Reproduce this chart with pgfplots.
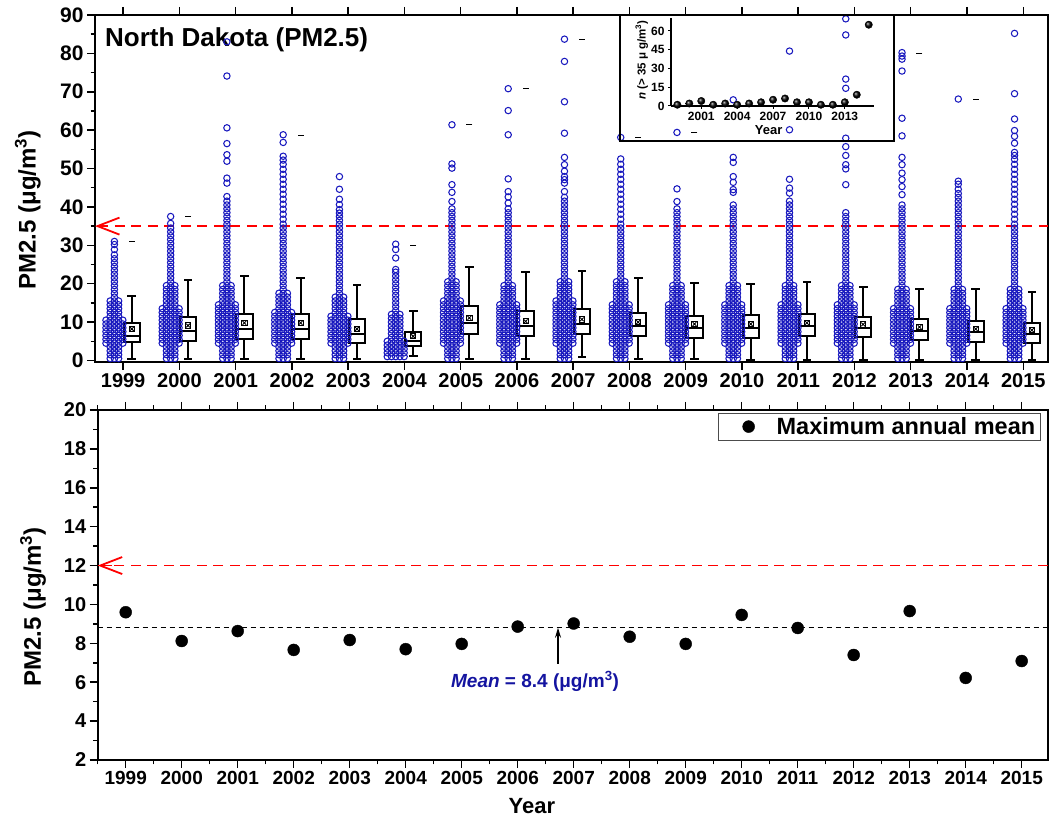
\documentclass[border=0pt]{standalone}
\usepackage{fontspec}
\setmainfont{Liberation Sans}
\usepackage{pgfplots}
\usepackage{pgfplotstable}
\pgfplotsset{compat=1.18}
\usetikzlibrary{arrows.meta}
\definecolor{cblue}{RGB}{24,24,190}
\definecolor{mblue}{RGB}{20,20,160}
\newcommand\fs[1]{\fontsize{#1}{#1}\selectfont}
\pgfplotsset{cloud/.style={only marks, mark=o, cblue, mark size=3.2pt, mark options={line width=1.05pt}}}
% x axis positions: 0 = 1999, 16 = 2015
\newcommand\cl[2]{%
\addplot[cloud] table[x expr=#1-0.155,y=y]{#2};
\addplot[cloud,restrict expr to domain={\thisrow{w}}{0.5:2.5}] table[x expr=#1-0.23,y=y]{#2};
\addplot[cloud,restrict expr to domain={\thisrow{w}}{0.5:2.5}] table[x expr=#1-0.08,y=y]{#2};
\addplot[cloud,restrict expr to domain={\thisrow{w}}{1.5:2.5}] table[x expr=#1-0.305,y=y]{#2};
\addplot[cloud,restrict expr to domain={\thisrow{w}}{1.5:2.5}] table[x expr=#1-0.005,y=y]{#2};
}
% box: #1 index, #2 lower whisker, #3 Q1, #4 median, #5 Q3, #6 upper whisker
\newcommand\bx[6]{\addplot[black,line width=2pt,solid,line cap=rect,unbounded coords=jump] coordinates {(#1.01,#3) (#1.30,#3) (#1.30,#5) (#1.01,#5) (#1.01,#3) (#1.1,nan) (#1.01,#4) (#1.30,#4) (#1.1,nan) (#1.155,#5) (#1.155,#6) (#1.1,nan) (#1.095,#6) (#1.215,#6) (#1.1,nan) (#1.155,#3) (#1.155,#2) (#1.1,nan) (#1.095,#2) (#1.215,#2)};}
\pgfplotsset{ax/.style={scale only axis, tick align=outside, ytick pos=left,
 major tick length=8pt, minor tick length=4.5pt,
 every tick/.style={black,line width=1.5pt},
 axis line style={line width=1.6pt},
 /pgf/number format/assume math mode=true,
 xtick={0,...,16},
 xticklabels={1999,2000,2001,2002,2003,2004,2005,2006,2007,2008,2009,2010,2011,2012,2013,2014,2015}}}

\pgfplotstableread{
w y
1 0.5
1 1.5
1 2.5
1 3.5
2 4.5
2 5.5
2 6.5
2 7.5
2 8.5
2 9.5
2 10.5
1 11.5
1 12.5
1 13.5
1 14.5
1 15.5
0 16.5
0 17.5
0 18.5
0 19.5
0 20.5
0 21.5
0 22.5
0 23.5
0 24.5
0 25.5
0 26.5
0 27.5
0 28.9
0 30.2
0 31.0
}\tA
\pgfplotstableread{
w y
1 0.5
1 1.5
1 2.5
1 3.5
2 4.5
2 5.5
2 6.5
2 7.5
2 8.5
2 9.5
2 10.5
2 11.5
2 12.5
2 13.5
1 14.5
1 15.5
1 16.5
1 17.5
1 18.5
1 19.5
0 20.5
0 21.5
0 22.5
0 23.5
0 24.5
0 25.5
0 26.5
0 27.5
0 28.5
0 29.5
0 30.5
0 31.5
0 32.5
0 33.5
0 34.5
0 35.7
0 37.5
}\tB
\pgfplotstableread{
w y
1 0.5
1 1.5
1 2.5
1 3.5
2 4.5
2 5.5
2 6.5
2 7.5
2 8.5
2 9.5
2 10.5
2 11.5
2 12.5
2 13.5
2 14.5
1 15.5
1 16.5
1 17.5
1 18.5
1 19.5
0 20.5
0 21.5
0 22.5
0 23.5
0 24.5
0 25.5
0 26.5
0 27.5
0 28.5
0 29.5
0 30.5
0 31.5
0 32.5
0 33.5
0 34.5
0 35.5
0 36.5
0 37.5
0 38.5
0 39.5
0 40.5
0 41.5
0 42.7
0 46.2
0 47.5
0 51.9
0 53.6
0 56.5
0 60.6
0 74.1
0 83.0
}\tC
\pgfplotstableread{
w y
1 0.5
1 1.5
1 2.5
1 3.5
2 4.5
2 5.5
2 6.5
2 7.5
2 8.5
2 9.5
2 10.5
2 11.5
2 12.5
1 13.5
1 14.5
1 15.5
1 16.5
1 17.5
0 18.5
0 19.5
0 20.5
0 21.5
0 22.5
0 23.5
0 24.5
0 25.5
0 26.5
0 27.5
0 28.5
0 29.5
0 30.5
0 31.5
0 32.5
0 33.5
0 34.5
0 35.5
0 36.8
0 38.1
0 39.4
0 40.7
0 42.0
0 43.3
0 44.6
0 45.9
0 47.2
0 48.5
0 49.8
0 51.1
0 52.2
0 53.2
0 56.8
0 58.8
}\tD
\pgfplotstableread{
w y
1 0.5
1 1.5
1 2.5
1 3.5
2 4.5
2 5.5
2 6.5
2 7.5
2 8.5
2 9.5
2 10.5
2 11.5
1 12.5
1 13.5
1 14.5
1 15.5
1 16.5
0 17.5
0 18.5
0 19.5
0 20.5
0 21.5
0 22.5
0 23.5
0 24.5
0 25.5
0 26.5
0 27.5
0 28.5
0 29.5
0 30.5
0 31.5
0 32.5
0 33.5
0 34.5
0 35.5
0 36.5
0 37.5
0 38.4
0 39.3
0 40.6
0 42.0
0 44.6
0 47.9
}\tE
\pgfplotstableread{
w y
2 1.0
2 2.0
2 3.0
2 4.0
2 5.0
1 6.0
1 7.0
1 8.0
1 9.0
1 10.0
1 11.0
1 12.0
0 13.0
0 14.0
0 15.0
0 16.0
0 17.0
0 18.0
0 19.0
0 20.0
0 21.0
0 22.0
0 23.0
0 23.7
0 26.7
0 28.9
0 30.3
}\tF
\pgfplotstableread{
w y
1 0.5
1 1.5
1 2.5
1 3.5
2 4.5
2 5.5
2 6.5
2 7.5
2 8.5
2 9.5
2 10.5
2 11.5
2 12.5
2 13.5
2 14.5
2 15.5
1 16.5
1 17.5
1 18.5
1 19.5
1 20.5
0 21.5
0 22.5
0 23.5
0 24.5
0 25.5
0 26.5
0 27.5
0 28.5
0 29.5
0 30.5
0 31.5
0 32.5
0 33.5
0 34.5
0 35.5
0 36.5
0 37.5
0 38.5
0 39.5
0 41.4
0 43.8
0 45.8
0 50.1
0 51.2
0 61.4
}\tG
\pgfplotstableread{
w y
1 0.5
1 1.5
1 2.5
1 3.5
2 4.5
2 5.5
2 6.5
2 7.5
2 8.5
2 9.5
2 10.5
2 11.5
2 12.5
2 13.5
2 14.5
1 15.5
1 16.5
1 17.5
1 18.5
1 19.5
0 20.5
0 21.5
0 22.5
0 23.5
0 24.5
0 25.5
0 26.5
0 27.5
0 28.5
0 29.5
0 30.5
0 31.5
0 32.5
0 33.5
0 34.5
0 35.5
0 36.5
0 37.5
0 38.5
0 39.5
0 41.0
0 42.6
0 44.0
0 47.3
0 58.8
0 65.1
0 70.8
}\tH
\pgfplotstableread{
w y
1 0.5
1 1.5
1 2.5
1 3.5
2 4.5
2 5.5
2 6.5
2 7.5
2 8.5
2 9.5
2 10.5
2 11.5
2 12.5
2 13.5
2 14.5
2 15.5
1 16.5
1 17.5
1 18.5
1 19.5
1 20.5
0 21.5
0 22.5
0 23.5
0 24.5
0 25.5
0 26.5
0 27.5
0 28.5
0 29.5
0 30.5
0 31.5
0 32.5
0 33.5
0 34.5
0 35.5
0 36.5
0 37.5
0 38.5
0 39.5
0 40.5
0 41.5
0 42.5
0 44.0
0 46.2
0 47.1
0 47.9
0 49.3
0 51.0
0 52.9
0 59.2
0 67.4
0 77.9
0 83.7
}\tI
\pgfplotstableread{
w y
1 0.5
1 1.5
1 2.5
1 3.5
2 4.5
2 5.5
2 6.5
2 7.5
2 8.5
2 9.5
2 10.5
2 11.5
2 12.5
2 13.5
2 14.5
1 15.5
1 16.5
1 17.5
1 18.5
1 19.5
1 20.5
0 21.5
0 22.5
0 23.5
0 24.5
0 25.5
0 26.5
0 27.5
0 28.5
0 29.5
0 30.5
0 31.5
0 32.5
0 33.5
0 34.5
0 35.5
0 36.8
0 38.1
0 39.4
0 40.7
0 42.0
0 43.3
0 44.6
0 45.9
0 47.2
0 48.5
0 49.8
0 51.1
0 52.5
0 58.1
}\tJ
\pgfplotstableread{
w y
1 0.5
1 1.5
1 2.5
1 3.5
2 4.5
2 5.5
2 6.5
2 7.5
2 8.5
2 9.5
2 10.5
2 11.5
2 12.5
2 13.5
2 14.5
1 15.5
1 16.5
1 17.5
1 18.5
1 19.5
0 20.5
0 21.5
0 22.5
0 23.5
0 24.5
0 25.5
0 26.5
0 27.5
0 28.5
0 29.5
0 30.5
0 31.5
0 32.5
0 33.5
0 34.5
0 35.5
0 36.5
0 37.5
0 38.5
0 39.5
0 41.4
0 44.7
0 59.4
}\tK
\pgfplotstableread{
w y
1 0.5
1 1.5
1 2.5
1 3.5
2 4.5
2 5.5
2 6.5
2 7.5
2 8.5
2 9.5
2 10.5
2 11.5
2 12.5
2 13.5
2 14.5
1 15.5
1 16.5
1 17.5
1 18.5
1 19.5
0 20.5
0 21.5
0 22.5
0 23.5
0 24.5
0 25.5
0 26.5
0 27.5
0 28.5
0 29.5
0 30.5
0 31.5
0 32.5
0 33.5
0 34.5
0 35.5
0 36.5
0 37.5
0 38.5
0 39.5
0 40.5
0 43.8
0 44.5
0 46.4
0 47.9
0 51.6
0 52.9
0 67.9
}\tL
\pgfplotstableread{
w y
1 0.5
1 1.5
1 2.5
1 3.5
2 4.5
2 5.5
2 6.5
2 7.5
2 8.5
2 9.5
2 10.5
2 11.5
2 12.5
2 13.5
2 14.5
1 15.5
1 16.5
1 17.5
1 18.5
1 19.5
0 20.5
0 21.5
0 22.5
0 23.5
0 24.5
0 25.5
0 26.5
0 27.5
0 28.5
0 29.5
0 30.5
0 31.5
0 32.5
0 33.5
0 34.5
0 35.5
0 36.5
0 37.5
0 38.5
0 39.5
0 40.5
0 41.5
0 43.6
0 44.9
0 47.2
0 60.1
0 80.6
}\tM
\pgfplotstableread{
w y
1 0.5
1 1.5
1 2.5
1 3.5
2 4.5
2 5.5
2 6.5
2 7.5
2 8.5
2 9.5
2 10.5
2 11.5
2 12.5
2 13.5
2 14.5
1 15.5
1 16.5
1 17.5
1 18.5
1 19.5
0 20.5
0 21.5
0 22.5
0 23.5
0 24.5
0 25.5
0 26.5
0 27.5
0 28.5
0 29.5
0 30.5
0 31.5
0 32.5
0 33.5
0 34.5
0 35.5
0 36.5
0 37.5
0 38.5
0 45.8
0 49.9
0 51.0
0 53.4
0 55.7
0 57.9
0 70.9
0 73.3
0 84.8
0 89.0
}\tN
\pgfplotstableread{
w y
1 0.5
1 1.5
1 2.5
1 3.5
2 4.5
2 5.5
2 6.5
2 7.5
2 8.5
2 9.5
2 10.5
2 11.5
2 12.5
2 13.5
1 14.5
1 15.5
1 16.5
1 17.5
1 18.5
0 19.5
0 20.5
0 21.5
0 22.5
0 23.5
0 24.5
0 25.5
0 26.5
0 27.5
0 28.5
0 29.5
0 30.5
0 31.5
0 32.5
0 33.5
0 34.5
0 35.5
0 36.5
0 37.5
0 38.5
0 39.5
0 40.5
0 43.2
0 45.3
0 47.1
0 48.8
0 51.0
0 52.9
0 58.5
0 63.1
0 75.4
0 78.5
0 79.3
0 80.2
}\tO
\pgfplotstableread{
w y
1 0.5
1 1.5
1 2.5
1 3.5
2 4.5
2 5.5
2 6.5
2 7.5
2 8.5
2 9.5
2 10.5
2 11.5
2 12.5
2 13.5
1 14.5
1 15.5
1 16.5
1 17.5
1 18.5
0 19.5
0 20.5
0 21.5
0 22.5
0 23.5
0 24.5
0 25.5
0 26.5
0 27.5
0 28.5
0 29.5
0 30.5
0 31.5
0 32.5
0 33.5
0 34.5
0 35.5
0 36.5
0 37.5
0 38.5
0 39.5
0 40.5
0 41.5
0 42.5
0 43.5
0 44.6
0 45.9
0 46.7
0 68.1
}\tP
\pgfplotstableread{
w y
1 0.5
1 1.5
1 2.5
1 3.5
2 4.5
2 5.5
2 6.5
2 7.5
2 8.5
2 9.5
2 10.5
2 11.5
2 12.5
2 13.5
1 14.5
1 15.5
1 16.5
1 17.5
1 18.5
0 19.5
0 20.5
0 21.5
0 22.5
0 23.5
0 24.5
0 25.5
0 26.5
0 27.5
0 28.5
0 29.5
0 30.5
0 31.5
0 32.5
0 33.5
0 34.5
0 35.5
0 36.8
0 38.1
0 39.4
0 40.7
0 42.0
0 43.3
0 44.6
0 45.9
0 47.2
0 48.5
0 49.8
0 51.1
0 52.4
0 53.4
0 54.2
0 56.6
0 58.4
0 59.9
0 62.9
0 69.5
0 85.2
}\tQ
\pgfplotstableread{
x m d
1999 8.2 31.0
2000 9.1 37.5
2001 9.8 nan
2002 9.8 58.5
2003 8.2 nan
2004 6.3 30.0
2005 11.1 61.4
2006 10.2 70.8
2007 10.7 83.7
2008 10.0 58.1
2009 9.5 59.4
2010 9.5 nan
2011 9.8 nan
2012 9.4 nan
2013 8.7 80.0
2014 8.2 68.1
2015 7.9 nan
}\stats
\pgfplotstableread{
x v
1999 9.60
2000 8.12
2001 8.63
2002 7.66
2003 8.17
2004 7.70
2005 7.97
2006 8.86
2007 9.02
2008 8.34
2009 7.97
2010 9.46
2011 8.79
2012 7.40
2013 9.66
2014 6.22
2015 7.09
}\annual
\pgfplotstableread{
x n
1999 1
2000 2
2001 4
2002 1
2003 2
2004 1
2005 2
2006 3
2007 5
2008 6
2009 3
2010 3
2011 1
2012 1
2013 3
2014 9
2015 65
}\counts
% centres of the dashes of the 12 ug/m3 limit line
\pgfplotstableread{
x y
-0.411 12
-0.116 12
0.179 12
0.473 12
0.768 12
1.062 12
1.357 12
1.651 12
1.946 12
2.241 12
2.535 12
2.830 12
3.124 12
3.419 12
3.714 12
4.008 12
4.303 12
4.597 12
4.892 12
5.187 12
5.481 12
5.776 12
6.070 12
6.365 12
6.660 12
6.954 12
7.249 12
7.543 12
7.838 12
8.133 12
8.427 12
8.722 12
9.016 12
9.311 12
9.606 12
9.900 12
10.195 12
10.489 12
10.784 12
11.079 12
11.373 12
11.668 12
11.962 12
12.257 12
12.552 12
12.846 12
13.141 12
13.435 12
13.730 12
14.025 12
14.319 12
14.614 12
14.908 12
15.203 12
15.498 12
15.792 12
16.087 12
16.381 12
}\dashes

\begin{document}
\begin{tikzpicture}
\useasboundingbox (0pt,0pt) rectangle (1049pt,821pt);
\node[anchor=base west, font=\bfseries\fs{26}, inner sep=0pt] at (105pt,774.3pt) {North Dakota (PM2.5)};
% ---------------- top panel
\begin{axis}[ax, at={(95pt,459pt)}, anchor=south west, width=953pt, height=347pt,
 xmin=-0.5, xmax=16.44, ymin=-0.4, ymax=90,
 ytick={0,10,...,90}, minor ytick={5,15,...,85},
 xticklabel style={font=\bfseries\fs{20}},
 yticklabel style={font=\bfseries\fs{21}},
 ylabel={PM2.5 (μg/m\textsuperscript{3})},
 every axis y label/.style={at={(axis description cs:-0.0705,0.438)}, rotate=90, anchor=center, font=\bfseries\fs{24}}]
\cl{0}{\tA}
\cl{1}{\tB}
\cl{2}{\tC}
\cl{3}{\tD}
\cl{4}{\tE}
\cl{5}{\tF}
\cl{6}{\tG}
\cl{7}{\tH}
\cl{8}{\tI}
\cl{9}{\tJ}
\cl{10}{\tK}
\cl{11}{\tL}
\cl{12}{\tM}
\cl{13}{\tN}
\cl{14}{\tO}
\cl{15}{\tP}
\cl{16}{\tQ}
\bx{0}{0.5}{4.9}{6.5}{9.8}{16.9}
\bx{1}{0.5}{5.0}{7.6}{11.3}{20.9}
\bx{2}{0.3}{5.6}{8.2}{12.2}{21.9}
\bx{3}{0.3}{5.6}{8.2}{12.0}{21.5}
\bx{4}{0.3}{4.6}{6.9}{10.7}{19.6}
\bx{5}{1.1}{3.7}{5.0}{7.5}{13.0}
\bx{6}{0.3}{7.0}{9.8}{14.1}{24.3}
\bx{7}{0.3}{6.5}{9.1}{13.0}{23.0}
\bx{8}{0.9}{6.8}{9.4}{13.3}{23.2}
\bx{9}{0.4}{6.3}{9.1}{12.4}{21.5}
\bx{10}{0.3}{5.9}{8.5}{11.7}{20.2}
\bx{11}{0.0}{5.9}{8.5}{11.8}{19.9}
\bx{12}{0.0}{6.3}{8.9}{12.0}{20.4}
\bx{13}{0.0}{6.1}{8.5}{11.3}{19.1}
\bx{14}{0.0}{5.3}{7.6}{10.7}{18.5}
\bx{15}{0.0}{4.9}{7.4}{10.4}{18.5}
\bx{16}{0.0}{4.6}{6.8}{9.8}{17.8}
\addplot[only marks, mark=square, mark size=2.6pt, mark options={line width=0.9pt}] table[x expr=\thisrow{x}-1999+0.155, y=m]{\stats};
\addplot[only marks, mark=x, mark size=2.6pt, mark options={line width=0.9pt}] table[x expr=\thisrow{x}-1999+0.155, y=m]{\stats};
\addplot[only marks, mark=-, mark size=3pt, mark options={line width=1pt}] table[x expr=\thisrow{x}-1999+0.155, y=d]{\stats};
\addplot[red, line width=1.8pt, dash pattern=on 10pt off 6.5pt, {Straight Barb[length=22pt,width=17pt,line width=1.8pt]}-] coordinates {(-0.5,35) (16.44,35)};
\end{axis}
% ---------------- bottom panel
\begin{axis}[ax, at={(97.7pt,61pt)}, anchor=south west, width=950.3pt, height=350pt,
 xmin=-0.5, xmax=16.47, ymin=2, ymax=20,
 minor xtick={-0.5,0.5,...,16.5},
 ytick={2,4,...,20}, minor ytick={3,5,...,19},
 xticklabel style={font=\bfseries\fs{19}},
 yticklabel style={font=\bfseries\fs{20}},
 xlabel={Year},
 every axis x label/.style={at={(axis description cs:0.457,-0.131)}, anchor=center, font=\bfseries\fs{22}},
 ylabel={PM2.5 (μg/m\textsuperscript{3})},
 every axis y label/.style={at={(axis description cs:-0.068,0.437)}, rotate=90, anchor=center, font=\bfseries\fs{24}},
 legend style={at={(0.992,0.991)}, anchor=north east, draw=black!70, font=\bfseries\fs{23.5}},
 legend image code/.code={\path[draw=none] (-27pt,0pt) -- (26pt,0pt); \draw[#1] plot coordinates {(0pt,0pt)};}]
\addlegendimage{only marks, mark=*, mark size=6pt, black}
\addlegendentry{Maximum annual mean}
\addplot[black, line width=1pt, dash pattern=on 5pt off 4pt] coordinates {(-0.5,8.8) (16.47,8.8)};
\addplot[black, line width=1.2pt, -{Stealth[length=10pt,width=6pt]}] coordinates {(7.72,6.94) (7.72,8.8)};
\addplot[only marks, mark=*, mark size=6pt, black] table[x expr=\thisrow{x}-1999, y=v]{\annual};
\node[anchor=base, text=mblue, font=\bfseries\fs{19}] at (axis cs:7.31,5.75) {\textit{Mean} = 8.4 (μg/m\textsuperscript{3})};
\addplot[only marks, mark=-, mark size=5pt, red, mark options={line width=1.8pt}] table[x=x, y=y]{\dashes};
\addplot[red, line width=1.8pt, {Straight Barb[length=22pt,width=17pt,line width=1.8pt]}-] coordinates {(-0.5,12) (-0.25,12)};
\end{axis}
% ---------------- inset
\draw[line width=1.5pt] (620pt,680pt) rectangle (894pt,806pt);
\begin{axis}[at={(671pt,715pt)}, anchor=south west, scale only axis, width=203pt, height=87.5pt,
 xmin=-0.53, xmax=16.44, ymin=0, ymax=70,
 axis x line*=bottom, axis y line*=left,
 axis line style={line width=1.3pt},
 tick align=outside, major tick length=3pt,
 every tick/.style={black,line width=1pt},
 xtick={2,5,8,11,14}, xticklabels={2001,2004,2007,2010,2013},
 ytick={0,15,30,45,60},
 /pgf/number format/assume math mode=true,
 tick label style={font=\bfseries\fs{12}},
 xlabel={Year},
 every axis x label/.style={at={(axis description cs:0.481,-0.274)}, anchor=center, font=\bfseries\fs{13}},
 ylabel={\textit{n} (> 35 μ g/m\textsuperscript{3})},
 every axis y label/.style={at={(axis description cs:-0.144,0.526)}, rotate=90, anchor=center, font=\bfseries\fs{11.5}}]
\addplot[only marks, mark=ball, mark size=3.7pt, mark options={ball color=black}] table[x expr=\thisrow{x}-1999, y=n]{\counts};
\end{axis}
\end{tikzpicture}
\end{document}
